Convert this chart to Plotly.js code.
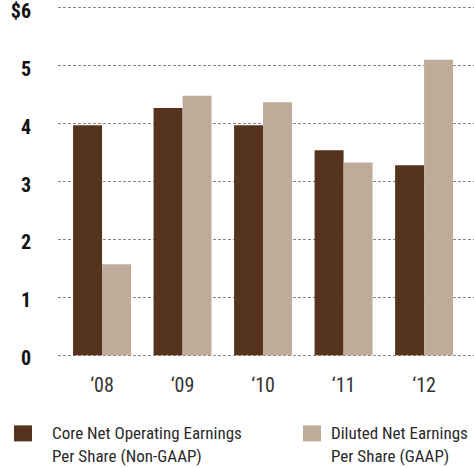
<!DOCTYPE html>
<html>
<head>
<meta charset="utf-8">
<script src="https://cdn.plot.ly/plotly-3.0.1.min.js"></script>
<style>html,body{margin:0;padding:0;background:#fff;}#chart{width:474px;height:468px;}</style>
</head>
<body>
<div id="chart"></div>
<script>
var years = ["\u201808", "\u201809", "\u201810", "\u201811", "\u201812"];
var coreEPS = [3.97, 4.27, 3.97, 3.54, 3.28];
var dilutedEPS = [1.57, 4.48, 4.37, 3.33, 5.10];
var seriesNames = [["Core Net Operating Earnings", "Per Share (Non-GAAP)"], ["Diluted Net Earnings", "Per Share (GAAP)"]];
var seriesColors = ["#55331C", "#BFAB99"];
var yTickVals = [0, 1, 2, 3, 4, 5, 6];
var yTickText = ["0", "1", "2", "3", "4", "5", "$6"];

var FONT = "'Liberation Sans Narrow', 'Arial Narrow', 'Roboto Condensed', sans-serif";

(function () {
  var traces = [
    {type: "bar", x: years, y: coreEPS, name: seriesNames[0].join(" "), marker: {color: seriesColors[0]}, hoverinfo: "none"},
    {type: "bar", x: years, y: dilutedEPS, name: seriesNames[1].join(" "), marker: {color: seriesColors[1]}, hoverinfo: "none"}
  ];

  // plot area geometry (px): value 0 at y=355, value 6 at y=8; pad keeps end gridlines inside
  var PAD = 0.03;
  var unit = 347 / 6;
  var padPx = PAD * unit;
  var plotTop = 8 - padPx, plotBottom = 355 + padPx;
  var W = 416, H = plotBottom - plotTop;
  function px2x(p) { return (p - 58) / W; }
  function px2y(p) { return (plotBottom - p) / H; }
  var legendX = [14, 303];
  var textX = [50, 329];
  var shapes = [], annotations = [];
  for (var i = 0; i < 2; i++) {
    shapes.push({type: "rect", xref: "paper", yref: "paper",
      x0: px2x(legendX[i]), x1: px2x(legendX[i] + 18), y0: px2y(425), y1: px2y(441),
      fillcolor: seriesColors[i], line: {width: 0}});
    for (var j = 0; j < 2; j++) {
      annotations.push({xref: "paper", yref: "paper", x: px2x(textX[i]), y: px2y(433 + j * 23),
        xanchor: "left", yanchor: "middle", showarrow: false, text: seriesNames[i][j],
        font: {family: FONT, size: 17, color: "#2a2a2a"}});
    }
  }

  var layout = {
    width: 474, height: 468,
    margin: {l: 58, r: 0, t: plotTop, b: 468 - plotBottom},
    paper_bgcolor: "#fff", plot_bgcolor: "#fff",
    barmode: "group", bargap: 0.28, bargroupgap: 0,
    showlegend: false,
    xaxis: {type: "category", range: [-0.547, 4.62], showgrid: false, zeroline: false, showline: false,
      ticks: "", ticklabelstandoff: 14, tickfont: {family: FONT, size: 20, color: "#333"}},
    yaxis: {range: [-PAD, 6 + PAD], tickvals: yTickVals, ticktext: yTickText, showgrid: true,
      gridcolor: "#888", gridwidth: 1, griddash: "3px,2px", zeroline: false, showline: false,
      ticks: "", ticklabelstandoff: 26, ticklabelshift: 3, ticklabeloverflow: "allow",
      tickfont: {family: FONT, size: 20, color: "#111", weight: "bold"}},
    shapes: shapes,
    annotations: annotations
  };

  Plotly.newPlot("chart", traces, layout, {displayModeBar: false, staticPlot: true});
})();
</script>
</body>
</html>
